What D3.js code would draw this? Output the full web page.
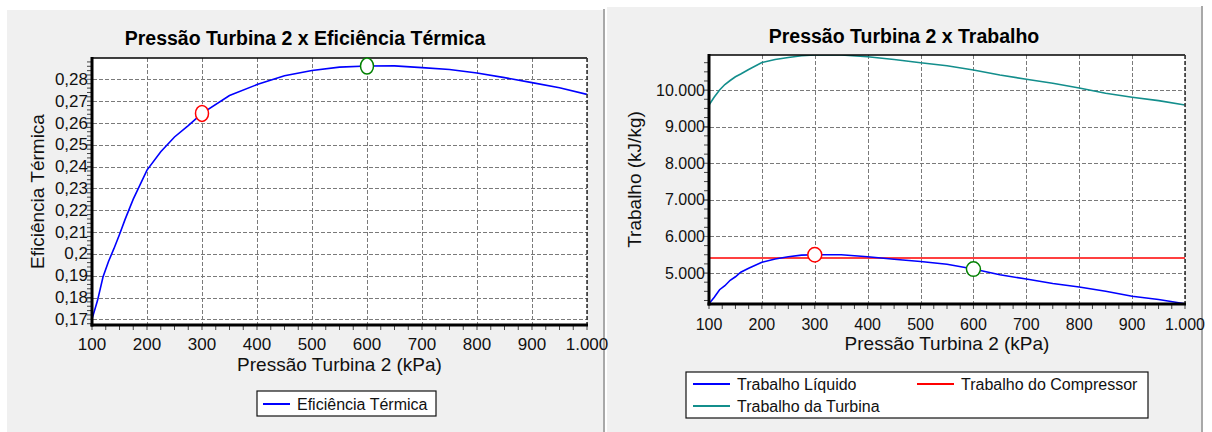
<!DOCTYPE html>
<html>
<head>
<meta charset="utf-8">
<script src="https://cdn.jsdelivr.net/npm/d3@7"></script>
<style>
  html, body { margin: 0; padding: 0; background: #fff; }
  svg { display: block; font-family: "Liberation Sans", Arial, sans-serif; }
</style>
</head>
<body>
<svg id="chart" width="1212" height="432"></svg>
<script>
// Pressure of turbine 2 (kPa)
const pressure = [100, 110, 120, 130, 140, 150, 160, 175, 200, 225, 250, 275, 300, 350,
                  400, 450, 500, 550, 600, 650, 700, 750, 800, 850, 900, 950, 1000];

// Thermal efficiency of the cycle
const efficiency = [0.1701, 0.1786, 0.1894, 0.1965, 0.2025, 0.2089, 0.2157, 0.2251, 0.2384,
                    0.2468, 0.2536, 0.2588, 0.2644, 0.2726, 0.2776, 0.2817, 0.2841, 0.2856,
                    0.2861, 0.2862, 0.2854, 0.2845, 0.2829, 0.2808, 0.2785, 0.2762, 0.2731];

// Work (kJ/kg)
const netWork = [4162, 4339, 4544, 4653, 4803, 4899, 5022, 5131, 5295, 5382, 5445, 5491, 5500,
                 5500, 5445, 5377, 5317, 5240, 5109, 4954, 4836, 4716, 4618, 4503, 4367, 4277, 4162];
const turbineWork = [9595, 9813, 10004, 10154, 10263, 10364, 10441, 10564, 10755, 10837, 10891,
                     10938, 10960, 10960, 10911, 10837, 10749, 10665, 10550, 10414, 10296, 10190,
                     10059, 9914, 9805, 9712, 9595];
const compressorWork = [5410, 5410, 5410, 5410, 5410, 5410, 5410, 5410, 5410, 5410, 5410, 5410,
                        5410, 5410, 5410, 5410, 5410, 5410, 5410, 5410, 5410, 5410, 5410, 5410,
                        5410, 5410, 5410];

// Axis ticks
const pressureTicks = [100, 200, 300, 400, 500, 600, 700, 800, 900, 1000];
const efficiencyTicks = [0.17, 0.18, 0.19, 0.2, 0.21, 0.22, 0.23, 0.24, 0.25, 0.26, 0.27, 0.28];
const workTicks = [5000, 6000, 7000, 8000, 9000, 10000];

// Highlighted operating points
const highlightPressures = [300, 600];
const highlightColors = ["#ff0000", "#008000"];

const ptBR = d3.formatLocale({ decimal: ",", thousands: ".", grouping: [3], currency: ["R$", ""] });
const fmtInt = ptBR.format(",d");
const fmtEff = ptBR.format(",.2~f");

const BLUE = "#0000ff", TEAL = "#138e8c", RED = "#ff0000";
const svg = d3.select("#chart");

// Panel backgrounds and separators
svg.append("rect").attr("x", 7).attr("y", 10).attr("width", 596).attr("height", 422).attr("fill", "#f0f0f0");
svg.append("rect").attr("x", 607).attr("y", 7).attr("width", 594).attr("height", 425).attr("fill", "#f0f0f0");
svg.append("rect").attr("x", 603).attr("y", 9).attr("width", 2).attr("height", 423).attr("fill", "#a8a8a8");
svg.append("rect").attr("x", 1201).attr("y", 6).attr("width", 2).attr("height", 426).attr("fill", "#a8a8a8");

function drawChart(o) {
  const g = svg.append("g");
  const x = d3.scaleLinear().domain([100, 1000]).range([o.x0, o.x1]);
  const y = d3.scaleLinear().domain(o.yDomain).range([o.y1, o.y0]);

  g.append("rect").attr("x", o.x0).attr("y", o.y0)
    .attr("width", o.x1 - o.x0).attr("height", o.y1 - o.y0).attr("fill", "#fff");

  // Minor tick marks
  const xMinor = d3.range(100, 1001, 25);
  g.append("g").selectAll("line").data(xMinor).join("line")
    .attr("x1", d => x(d)).attr("x2", d => x(d))
    .attr("y1", o.y1).attr("y2", o.y1 + 5)
    .attr("stroke", "#444").attr("stroke-width", 1);
  g.append("g").selectAll("line").data(o.yMinor).join("line")
    .attr("x1", o.x0 - 5).attr("x2", o.x0)
    .attr("y1", d => y(d)).attr("y2", d => y(d))
    .attr("stroke", "#444").attr("stroke-width", 1);

  // Dashed grid
  const grid = g.append("g").attr("stroke", "#7a7a7a").attr("stroke-width", 1).attr("stroke-dasharray", "4,2");
  grid.selectAll(".gx").data(pressureTicks).join("line").attr("class", "gx")
    .attr("x1", d => Math.round(x(d)) + 0.5).attr("x2", d => Math.round(x(d)) + 0.5)
    .attr("y1", o.y0).attr("y2", o.y1);
  grid.selectAll(".gy").data(o.yTicks).join("line").attr("class", "gy")
    .attr("x1", o.x0 - 5).attr("x2", o.x1)
    .attr("y1", d => Math.round(y(d)) + 0.5).attr("y2", d => Math.round(y(d)) + 0.5);

  // Series
  const clipId = "clip" + o.id;
  svg.append("clipPath").attr("id", clipId).append("rect")
    .attr("x", o.x0).attr("y", o.y0).attr("width", o.x1 - o.x0).attr("height", o.y1 - o.y0);
  const line = d3.line().x((d, i) => x(pressure[i])).y(d => y(d));
  o.series.forEach(s => {
    g.append("path").datum(s.values).attr("d", line)
      .attr("fill", "none").attr("stroke", s.color).attr("stroke-width", 1.6)
      .attr("clip-path", `url(#${clipId})`);
  });

  // Frame
  g.append("line").attr("x1", o.x0).attr("x2", o.x1).attr("y1", o.y0).attr("y2", o.y0)
    .attr("stroke", "#000").attr("stroke-width", 1.5);
  g.append("line").attr("x1", o.x1).attr("x2", o.x1).attr("y1", o.y0).attr("y2", o.y1)
    .attr("stroke", "#333").attr("stroke-width", 1.5).attr("stroke-dasharray", "4,2");
  g.append("line").attr("x1", o.x0).attr("x2", o.x0).attr("y1", o.y0 - 1).attr("y2", o.y1 + 1.5)
    .attr("stroke", "#000").attr("stroke-width", 3);
  g.append("line").attr("x1", o.x0 - 1.5).attr("x2", o.x1 + 1).attr("y1", o.y1).attr("y2", o.y1)
    .attr("stroke", "#000").attr("stroke-width", 3);

  // Tick labels
  g.append("g").selectAll("text").data(pressureTicks).join("text")
    .attr("x", d => x(d)).attr("y", o.y1 + o.xLabelDy)
    .attr("text-anchor", "middle").attr("font-size", o.tickFont).attr("fill", "#111")
    .text(d => fmtInt(d));
  g.append("g").selectAll("text").data(o.yTicks).join("text")
    .attr("x", o.x0 - 4).attr("y", d => y(d) + 5.5)
    .attr("text-anchor", "end").attr("font-size", o.tickFont).attr("fill", "#111")
    .text(d => o.yFormat(d));

  // Titles
  g.append("text").attr("x", o.titleX).attr("y", o.titleY)
    .attr("text-anchor", "middle").attr("font-size", 19.5).attr("font-weight", "bold")
    .attr("fill", "#000").text(o.title);
  g.append("text").attr("x", (o.x0 + o.x1) / 2).attr("y", o.y1 + 46)
    .attr("text-anchor", "middle").attr("font-size", 19).attr("fill", "#111")
    .text("Pressão Turbina 2 (kPa)");
  g.append("text")
    .attr("transform", `translate(${o.yTitleX},${(o.y0 + o.y1) / 2}) rotate(-90)`)
    .attr("text-anchor", "middle").attr("font-size", 19).attr("fill", "#111")
    .text(o.yTitle);

  // Highlighted points
  const marks = highlightPressures.map((p, i) => ({
    p, v: o.markSeries[pressure.indexOf(p)], color: highlightColors[i]
  }));
  g.append("g").selectAll("ellipse").data(marks).join("ellipse")
    .attr("cx", d => x(d.p)).attr("cy", d => y(d.v))
    .attr("rx", o.markRx).attr("ry", o.markRy)
    .attr("fill", "#fff").attr("stroke", d => d.color).attr("stroke-width", 1.5);

  // Legend
  const lg = g.append("g");
  lg.append("rect").attr("x", o.legend.x).attr("y", o.legend.y)
    .attr("width", o.legend.w).attr("height", o.legend.h)
    .attr("fill", "#fff").attr("stroke", "#111").attr("stroke-width", 1.2);
  o.legend.items.forEach(it => {
    lg.append("line").attr("x1", it.x).attr("x2", it.x + it.len).attr("y1", it.y).attr("y2", it.y)
      .attr("stroke", it.color).attr("stroke-width", 2);
    lg.append("text").attr("x", it.x + it.len + 7).attr("y", it.y + 5.5)
      .attr("font-size", 16).attr("fill", "#111").text(it.label);
  });
}

drawChart({
  id: "eff",
  x0: 92, x1: 587, y0: 58, y1: 325,
  yDomain: [0.1674, 0.2898],
  yTicks: efficiencyTicks,
  yMinor: d3.range(84, 145).map(i => i * 0.002).filter(v => v >= 0.1674 && v <= 0.2898),
  yFormat: fmtEff,
  tickFont: 17,
  xLabelDy: 25,
  title: "Pressão Turbina 2 x Eficiência Térmica",
  titleX: 305, titleY: 45,
  yTitle: "Eficiência Térmica", yTitleX: 43.5,
  series: [{ values: efficiency, color: BLUE }],
  markSeries: efficiency, markRx: 6.5, markRy: 8,
  legend: {
    x: 257, y: 391, w: 179, h: 25,
    items: [{ x: 263, y: 404, len: 27, color: BLUE, label: "Eficiência Térmica" }]
  }
});

drawChart({
  id: "work",
  x0: 709, x1: 1185, y0: 55, y1: 304,
  yDomain: [4154, 10960],
  yTicks: workTicks,
  yMinor: d3.range(17, 44).map(i => i * 250).filter(v => v >= 4154 && v <= 10960),
  yFormat: fmtInt,
  tickFont: 16,
  xLabelDy: 26,
  title: "Pressão Turbina 2 x Trabalho",
  titleX: 904, titleY: 42.5,
  yTitle: "Trabalho (kJ/kg)", yTitleX: 641,
  series: [
    { values: compressorWork, color: RED },
    { values: turbineWork, color: TEAL },
    { values: netWork, color: BLUE }
  ],
  markSeries: netWork, markRx: 7, markRy: 7.2,
  legend: {
    x: 686, y: 372, w: 462, h: 46,
    items: [
      { x: 693, y: 384, len: 37, color: BLUE, label: "Trabalho Líquido" },
      { x: 693, y: 406, len: 37, color: TEAL, label: "Trabalho da Turbina" },
      { x: 917, y: 384, len: 37, color: RED, label: "Trabalho do Compressor" }
    ]
  }
});
</script>
</body>
</html>
